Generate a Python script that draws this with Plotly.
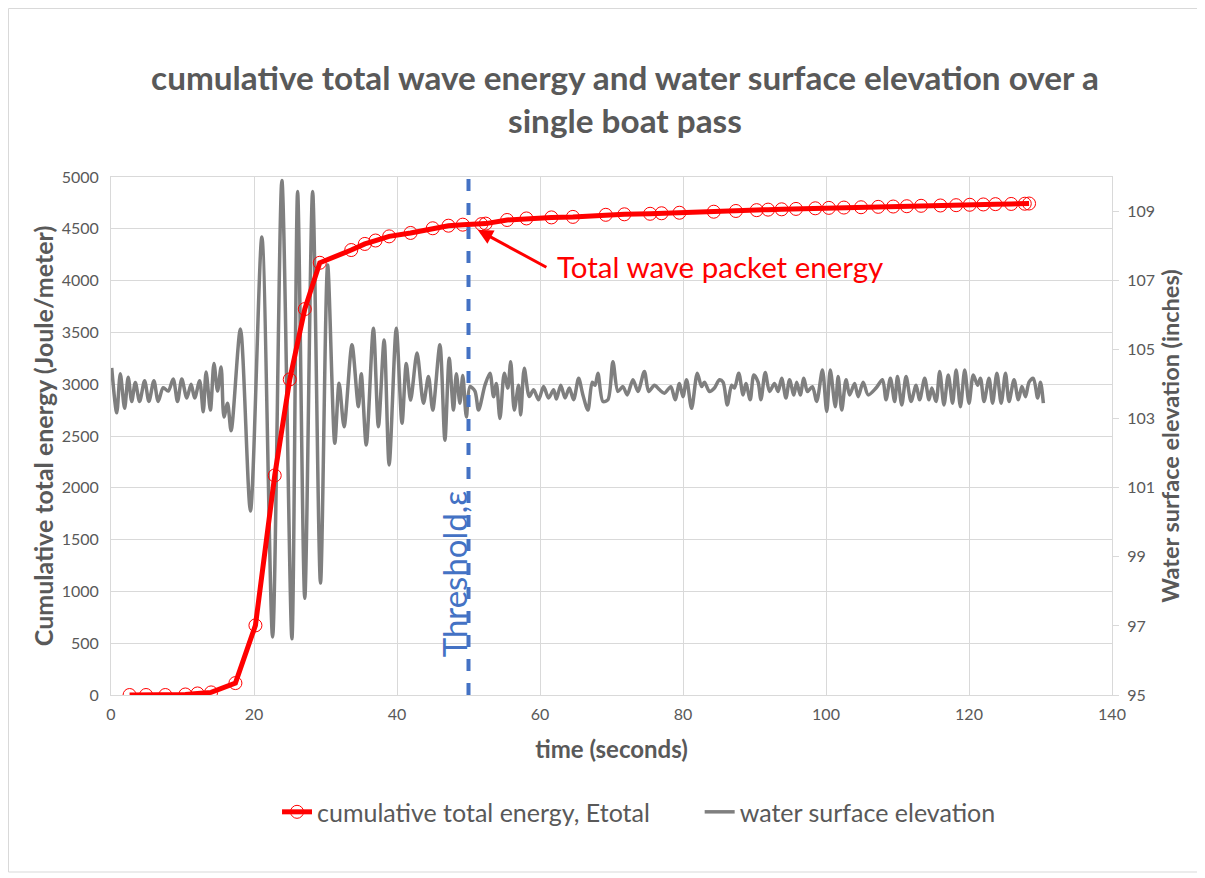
import plotly.graph_objects as go

# ---- data ----
energy_t = [2.6, 4.9, 7.6, 10.4, 12.1, 14.0, 17.4, 20.2, 22.9, 25.0, 27.1, 29.2, 33.6, 35.5, 37.0,
            38.9, 41.9, 45.0, 47.2, 49.2, 51.8, 52.4, 55.4, 58.1, 61.6, 64.6, 69.2, 71.8, 75.4, 77.0,
            79.5, 84.3, 87.4, 90.3, 91.9, 93.8, 95.8, 98.5, 100.4, 102.5, 104.9, 107.3, 109.4, 111.3,
            113.3, 116.0, 118.2, 120.1, 122.0, 123.7, 125.9, 127.8, 128.4]
energy_val = [0, 0, 0, 5, 15, 25, 115, 672, 2119, 3046, 3725, 4172, 4295, 4354, 4387,
              4427, 4460, 4505, 4530, 4540, 4545, 4550, 4585, 4600, 4610, 4615, 4635, 4640, 4645, 4650,
              4655, 4665, 4672, 4680, 4685, 4688, 4692, 4698, 4702, 4705, 4708, 4712, 4715, 4718,
              4722, 4725, 4728, 4732, 4735, 4738, 4740, 4742, 4744]

wave_t = [0.1, 0.8, 1.3, 1.9, 2.4, 2.9, 3.4, 4.0, 4.7, 5.3, 6.0, 6.6, 7.3, 8.0, 8.7, 9.3, 9.9, 10.6,
          11.2, 11.7, 12.4, 12.9, 13.3, 13.9, 14.4, 14.9, 15.4, 15.8, 16.3, 16.8, 18.1, 19.5, 21.1,
          22.6, 23.9, 25.3, 26.1, 27.1, 28.2, 29.3, 30.3, 31.3, 31.9, 32.6, 33.7, 34.6, 35.0, 35.7,
          36.7, 37.4, 38.2, 38.9, 39.9, 40.7, 41.3, 41.9, 42.8, 43.7, 44.4, 45.0, 46.0, 46.7, 47.3,
          47.9, 48.3, 48.8, 49.2, 49.7, 50.2, 50.9, 51.4, 52.3, 53.0, 53.5, 53.9, 54.4, 55.0, 55.5,
          55.9, 56.4, 57.0, 57.3, 57.8, 58.5, 59.1, 59.8, 60.5, 61.2, 61.9, 62.3, 62.9, 63.5, 64.1,
          64.7, 65.4, 66.0, 66.7, 67.3, 67.7, 68.1, 68.8, 69.5, 70.2, 70.9, 71.6, 72.2, 73.0, 73.7,
          74.6, 75.2, 76.0, 76.7, 77.4, 78.3, 78.9, 79.5, 80.0, 80.5, 81.2, 82.0, 82.6, 83.0, 83.7,
          84.4, 85.1, 85.6, 86.2, 86.8, 87.2, 87.8, 88.4, 88.8, 89.4, 89.9, 90.5, 90.9, 91.5, 92.1,
          92.8, 93.3, 93.8, 94.4, 94.9, 95.5, 95.9, 96.4, 96.9, 97.4, 98.1, 98.7, 99.5, 100.1, 100.6,
          101.3, 101.7, 102.2, 102.8, 103.3, 104.0, 104.5, 105.2, 105.9, 107.0, 107.9, 108.4, 109.0,
          109.6, 110.0, 110.6, 111.2, 111.9, 112.6, 113.1, 113.8, 114.4, 114.8, 115.4, 115.9, 116.5,
          117.1, 117.7, 118.2, 118.8, 119.4, 120.0, 120.6, 121.2, 121.6, 122.1, 122.8, 123.3, 123.9,
          124.5, 125.1, 125.6, 126.3, 126.9, 127.4, 127.9, 128.4, 129.0, 129.6, 130.0, 130.4]
wave_elev = [104.47, 103.17, 104.3, 103.3, 104.2, 103.5, 104.05, 103.5, 104.1, 103.5, 104.1, 103.5,
             103.9, 103.8, 104.15, 103.5, 104.15, 103.6, 104.0, 103.6, 104.1, 103.2, 104.35, 103.25,
             104.6, 103.8, 104.5, 103.05, 103.45, 102.65, 105.6, 100.33, 108.26, 96.68, 109.9, 96.63,
             109.58, 97.8, 109.58, 98.24, 107.45, 102.29, 104.03, 102.77, 105.14, 103.35, 104.3,
             102.24, 105.62, 102.77, 105.28, 101.66, 105.62, 102.87, 104.6, 103.54, 104.9, 103.45,
             104.22, 103.25, 105.14, 102.38, 104.75, 103.25, 104.3, 103.45, 104.25, 103.05, 103.93,
             103.8, 103.25, 103.97, 104.32, 103.64, 104.02, 103.01, 104.32, 103.89, 104.65, 103.25,
             103.97, 103.11, 104.46, 103.64, 103.84, 103.55, 103.93, 103.6, 103.84, 103.57, 103.97,
             103.6, 103.89, 103.55, 104.17, 103.69, 103.25, 104.06, 103.97, 104.32, 103.5, 103.55,
             104.65, 103.79, 103.93, 103.69, 104.13, 103.79, 104.37, 103.79, 103.97, 103.84, 103.74,
             103.93, 103.55, 104.02, 103.64, 104.13, 103.3, 104.32, 103.93, 104.06, 103.79, 103.89,
             104.13, 104.06, 103.4, 103.97, 103.89, 104.32, 103.69, 104.02, 103.55, 104.27, 104.06,
             103.55, 104.34, 103.79, 104.02, 103.79, 104.17, 103.6, 104.13, 103.69, 104.06, 103.69,
             104.17, 103.79, 103.93, 103.5, 104.41, 103.21, 104.41, 103.35, 104.22, 103.25, 104.13,
             103.69, 104.02, 103.64, 104.06, 103.69, 103.89, 104.13, 103.55, 104.17, 103.5, 104.22,
             103.4, 104.22, 103.5, 103.97, 103.55, 104.17, 103.55, 103.89, 103.5, 104.37, 103.4,
             104.27, 103.45, 104.41, 103.35, 104.41, 103.45, 104.27, 103.97, 104.17, 103.5, 104.17,
             103.45, 104.32, 103.45, 104.32, 103.5, 104.13, 103.55, 103.93, 103.64, 104.06, 104.17,
             103.6, 104.06, 103.45]

threshold_t = 50
x_ticks = [0, 20, 40, 60, 80, 100, 120, 140]
energy_ticks = [0, 500, 1000, 1500, 2000, 2500, 3000, 3500, 4000, 4500, 5000]
elev_ticks = [95, 97, 99, 101, 103, 105, 107, 109]

FONT = "Lato"
GRAY_TXT = "#595959"
GRID = "#d9d9d9"
NB = "\u00a0"

fig = go.Figure()

fig.add_trace(go.Scatter(
    x=energy_t, y=energy_val, yaxis="y2", mode="lines+markers",
    name="cumulative total energy, Etotal" + NB * 7,
    line=dict(color="#ff0000", width=5),
    marker=dict(symbol="circle-open", size=13, color="#ff0000", line=dict(width=1, color="#ff3030")),
))
fig.add_trace(go.Scatter(
    x=wave_t, y=wave_elev, yaxis="y", mode="lines",
    name="water surface elevation",
    line=dict(color="#7f7f7f", width=3.5, shape="spline", smoothing=0.8),
))

fig.update_layout(
    width=1205, height=878,
    margin=dict(l=103, r=101, t=169, b=191),
    paper_bgcolor="white", plot_bgcolor="white",
    font=dict(family=FONT, color=GRAY_TXT),
    title=dict(
        text="<b>cumulative total wave energy and water surface elevation over a<br>single boat pass</b>",
        x=0.512, xref="container", xanchor="center",
        y=1 - 82 / 878, yref="container", yanchor="middle",
        font=dict(family=FONT, size=33.3, color=GRAY_TXT),
    ),
    xaxis=dict(
        range=[0, 140], tickvals=x_ticks, showgrid=True, gridcolor=GRID, gridwidth=1,
        showline=True, linecolor=GRID, linewidth=1, mirror=True, zeroline=False,
        ticks="", tickfont=dict(size=16, color=GRAY_TXT), ticklabelstandoff=5,
        title=dict(text="<b>time (seconds)</b>", font=dict(size=24, color=GRAY_TXT), standoff=18),
    ),
    yaxis=dict(
        range=[95, 110], tickvals=elev_ticks, side="right", showgrid=False, zeroline=False,
        showline=True, linecolor=GRID, linewidth=1,
        ticks="outside", ticklen=6, tickcolor=GRID, ticklabelstandoff=5,
        tickfont=dict(size=16, color=GRAY_TXT),
        title=dict(text="<b>Water surface elevation (inches)</b>", font=dict(size=23.5, color=GRAY_TXT), standoff=8),
    ),
    yaxis2=dict(
        range=[0, 5000], tickvals=energy_ticks, side="left", overlaying="y",
        showgrid=True, gridcolor=GRID, gridwidth=1, zeroline=False,
        showline=True, linecolor=GRID, linewidth=1, ticks="", ticklabelstandoff=8,
        tickfont=dict(size=16, color=GRAY_TXT),
        title=dict(text="<b>Cumulative total energy (Joule/meter)</b>", font=dict(size=25, color=GRAY_TXT), standoff=0),
    ),
    legend=dict(
        orientation="h", x=0.5275, xanchor="center", y=-0.226, yanchor="middle",
        font=dict(size=25, color=GRAY_TXT), traceorder="normal", itemwidth=30,
    ),
)

# threshold line
fig.add_shape(type="line", xref="x", yref="y2", x0=threshold_t, x1=threshold_t, y0=0, y1=5000,
              line=dict(color="#4472c4", width=4, dash="dash"), layer="above")
fig.add_annotation(x=47.9, y=1170, xref="x", yref="y2", text="Threshold,ε", textangle=-90,
                   showarrow=False, font=dict(family=FONT, size=33, color="#4472c4"))

# total wave packet energy annotation
fig.add_annotation(x=51.3, y=4488, xref="x", yref="y2", ax=61.1, ay=4121, axref="x", ayref="y2",
                   text="", showarrow=True, arrowhead=2, arrowsize=1, arrowwidth=3, arrowcolor="#ff0000")
fig.add_annotation(x=62.1, y=4140, xref="x", yref="y2", xanchor="left", yanchor="middle",
                   text="Total wave packet energy", showarrow=False,
                   font=dict(family=FONT, size=29.5, color="#ff0000"))

# outer chart border
fig.add_shape(type="rect", xref="paper", yref="paper", x0=-0.1024, x1=1.0859, y0=-0.3417, y1=1.3253,
              line=dict(color=GRID, width=1), fillcolor="rgba(0,0,0,0)", layer="below")

fig.write_html("out.html")
